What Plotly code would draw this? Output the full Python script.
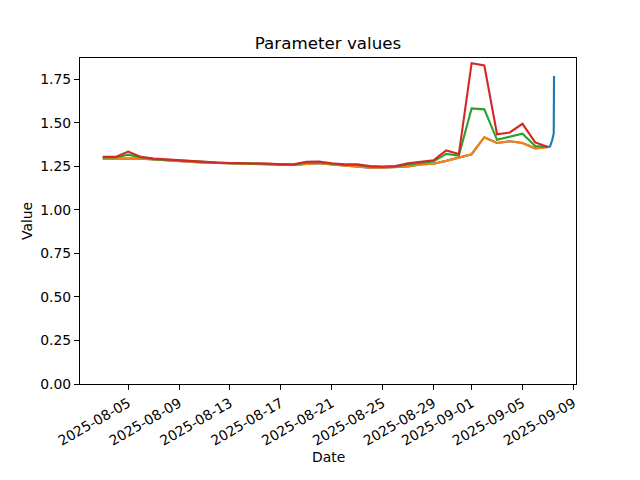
import pandas as pd
import plotly.graph_objects as go

days = pd.date_range("2025-08-03", "2025-09-07", freq="D")

red_vals = [1.305, 1.305, 1.335, 1.305, 1.295, 1.290, 1.285, 1.282, 1.278, 1.272,
            1.270, 1.270, 1.268, 1.266, 1.262, 1.262, 1.277, 1.278, 1.268, 1.262,
            1.262, 1.252, 1.250, 1.252, 1.268, 1.275, 1.285, 1.342, 1.322, 1.843,
            1.830, 1.435, 1.445, 1.495, 1.388, 1.362]
green_vals = [1.302, 1.302, 1.318, 1.302, 1.292, 1.288, 1.283, 1.279, 1.275, 1.270,
              1.268, 1.268, 1.266, 1.264, 1.260, 1.260, 1.272, 1.273, 1.265, 1.259,
              1.258, 1.249, 1.247, 1.249, 1.262, 1.270, 1.278, 1.322, 1.312, 1.583,
              1.578, 1.403, 1.420, 1.438, 1.367, 1.362]
orange_vals = [1.295, 1.295, 1.298, 1.295, 1.290, 1.285, 1.280, 1.275, 1.272, 1.270,
               1.266, 1.266, 1.264, 1.262, 1.258, 1.258, 1.264, 1.268, 1.262, 1.256,
               1.250, 1.243, 1.243, 1.245, 1.250, 1.262, 1.265, 1.282, 1.300, 1.320,
               1.418, 1.385, 1.395, 1.385, 1.354, 1.360]
blue_tail_times = ["2025-09-07 04:00", "2025-09-07 08:00", "2025-09-07 11:00", "2025-09-07 11:30"]
blue_tail_vals = [1.365, 1.400, 1.440, 1.770]

blue_x = list(days) + list(pd.to_datetime(blue_tail_times))
blue_y = orange_vals + blue_tail_vals

tick_dates = ["2025-08-05", "2025-08-09", "2025-08-13", "2025-08-17", "2025-08-21",
              "2025-08-25", "2025-08-29", "2025-09-01", "2025-09-05", "2025-09-09"]
y_ticks = [0.0, 0.25, 0.5, 0.75, 1.0, 1.25, 1.5, 1.75]

fig = go.Figure()
lw = 2.1
fig.add_trace(go.Scatter(x=blue_x, y=blue_y, mode="lines", line=dict(color="#1f77b4", width=lw)))
fig.add_trace(go.Scatter(x=days, y=orange_vals, mode="lines", line=dict(color="#ff7f0e", width=lw)))
fig.add_trace(go.Scatter(x=days, y=green_vals, mode="lines", line=dict(color="#2ca02c", width=lw)))
fig.add_trace(go.Scatter(x=days, y=red_vals, mode="lines", line=dict(color="#d62728", width=lw)))

font = "DejaVu Sans"
# page body has an 8px margin, so the figure is sized/offset to compensate
fig.update_layout(
    width=632, height=472,
    margin=dict(l=72, r=64, t=50, b=96),
    paper_bgcolor="white", plot_bgcolor="white",
    showlegend=False,
    font=dict(family=font, size=13.9, color="black"),
    title=dict(text="Parameter values", x=0.5, xref="paper", xanchor="center",
               y=1 - 35 / 472, yref="container", yanchor="middle",
               font=dict(family=font, size=16.7, color="black")),
)
fig.update_xaxes(
    range=["2025-08-01 05:00", "2025-09-09 05:00"],
    tickvals=pd.to_datetime(tick_dates), ticktext=tick_dates, tickangle=-30,
    showline=True, linecolor="black", linewidth=1, mirror=True,
    ticks="outside", ticklen=5, tickcolor="black", showgrid=False, zeroline=False,
)
fig.update_yaxes(
    range=[0, 1.873], tickvals=y_ticks, ticktext=[f"{v:.2f}" for v in y_ticks],
    showline=True, linecolor="black", linewidth=1, mirror=True,
    ticks="outside", ticklen=5, tickcolor="black", showgrid=False, zeroline=False,
)
fig.add_annotation(text="Date", xref="paper", yref="paper", x=0.5, y=(384 - 457) / 326,
                   showarrow=False, xanchor="center", yanchor="middle",
                   font=dict(family=font, size=13.9, color="black"))
fig.add_annotation(text="Value", xref="paper", yref="paper", x=(27 - 80) / 496, y=0.5,
                   showarrow=False, xanchor="center", yanchor="middle", textangle=-90,
                   font=dict(family=font, size=13.9, color="black"))

fig.write_html("out.html")
